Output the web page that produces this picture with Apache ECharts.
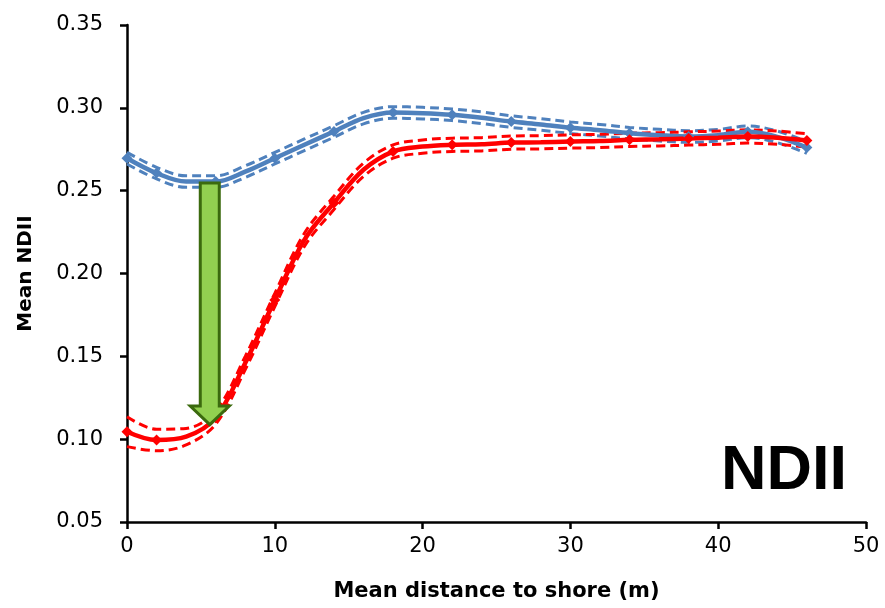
<!DOCTYPE html>
<html>
<head>
<meta charset="utf-8">
<script src="https://cdn.jsdelivr.net/npm/echarts@6/dist/echarts.min.js"></script>
<style>
html,body{margin:0;padding:0;background:#fff;}
#chart{width:885px;height:608px;}
</style>
</head>
<body>
<div id="chart"></div>
<script>
// Distance to shore (m), read every 2 m along the curves
var distance = [0, 2, 4, 6, 8, 10, 12, 14, 16, 18, 20, 22, 24, 26, 28, 30, 32, 34, 36, 38, 40, 42, 44, 46];
// Distances where the diamond markers sit
var markerDistance = [0, 2, 6, 10, 14, 18, 22, 26, 30, 34, 38, 42, 46];
// Blue series (mean NDII) and its dashed band
var blueMean  = [0.2696, 0.2606, 0.2555, 0.2555, 0.2615, 0.2696, 0.2777, 0.2857, 0.2938, 0.2972, 0.2968, 0.2958, 0.2940, 0.2917, 0.2900, 0.2880, 0.2865, 0.2847, 0.2835, 0.2827, 0.2835, 0.2855, 0.2825, 0.2760];
var blueUpper = [0.2731, 0.2641, 0.2590, 0.2590, 0.2650, 0.2731, 0.2812, 0.2892, 0.2973, 0.3007, 0.3003, 0.2993, 0.2975, 0.2952, 0.2935, 0.2915, 0.2900, 0.2882, 0.2870, 0.2862, 0.2870, 0.2890, 0.2860, 0.2795];
var blueLower = [0.2661, 0.2571, 0.2520, 0.2520, 0.2580, 0.2661, 0.2742, 0.2822, 0.2903, 0.2937, 0.2933, 0.2923, 0.2905, 0.2882, 0.2865, 0.2845, 0.2830, 0.2812, 0.2800, 0.2792, 0.2800, 0.2820, 0.2790, 0.2725];
// Red series (mean NDII) and its dashed band
var redMean  = [0.1045, 0.0995, 0.1015, 0.1130, 0.1460, 0.1840, 0.2203, 0.2426, 0.2626, 0.2736, 0.2766, 0.2777, 0.2780, 0.2790, 0.2792, 0.2797, 0.2800, 0.2807, 0.2810, 0.2815, 0.2820, 0.2827, 0.2820, 0.2803];
var redUpper = [0.1135, 0.1060, 0.1065, 0.1170, 0.1500, 0.1880, 0.2243, 0.2466, 0.2666, 0.2776, 0.2806, 0.2817, 0.2820, 0.2830, 0.2832, 0.2837, 0.2840, 0.2847, 0.2850, 0.2855, 0.2860, 0.2867, 0.2860, 0.2843];
var redLower = [0.0955, 0.0930, 0.0965, 0.1090, 0.1420, 0.1800, 0.2163, 0.2386, 0.2586, 0.2696, 0.2726, 0.2737, 0.2740, 0.2750, 0.2752, 0.2757, 0.2760, 0.2767, 0.2770, 0.2775, 0.2780, 0.2787, 0.2780, 0.2763];
// Green arrow: x position, top, head base, tip (data units)
var arrowX = [5.6];
var arrowTop = [0.2547];
var arrowHeadBase = [0.1200];
var arrowTip = [0.1088];
// Axis ticks
var xTicks = [0, 10, 20, 30, 40, 50];
var yTicks = [0.05, 0.10, 0.15, 0.20, 0.25, 0.30, 0.35];
var panelLabel = 'NDII';
var xName = 'Mean distance to shore (m)';
var yName = 'Mean NDII';

function pairs(xs, ys) { return xs.map(function (x, i) { return [x, ys[i]]; }); }
function markedPairs(xs, ys) {
  return xs.map(function (x, i) {
    var mark = markerDistance.indexOf(x) >= 0;
    return {value: [x, ys[i]], symbol: mark ? 'diamond' : 'none'};
  });
}

var chart = echarts.init(document.getElementById('chart'), null, {renderer: 'canvas'});

function solid(name, color, data) {
  return {
    name: name, type: 'line', data: markedPairs(distance, data), smooth: 0.35,
    symbol: 'diamond', symbolSize: 11, showSymbol: true,
    lineStyle: {color: color, width: 4.5},
    itemStyle: {color: color},
    z: 3, animation: false
  };
}
function dashed(name, color, data) {
  return {
    name: name, type: 'line', data: pairs(distance, data), smooth: 0.35,
    symbol: 'none',
    lineStyle: {color: color, width: 3, type: [9, 5]},
    z: 2, animation: false
  };
}

var blue = '#4F81BD', red = '#FF0000';

chart.setOption({
  backgroundColor: '#ffffff',
  animation: false,
  grid: {left: 127, right: 19, top: 25, bottom: 86, containLabel: false},
  xAxis: {
    type: 'value', min: xTicks[0], max: xTicks[xTicks.length - 1], interval: 10,
    name: xName, nameLocation: 'middle', nameGap: 59,
    nameTextStyle: {fontFamily: 'DejaVu Sans', fontWeight: 'bold', fontSize: 21, color: '#000'},
    axisLine: {lineStyle: {color: '#000', width: 2.5}},
    axisTick: {show: true, inside: false, length: 7, lineStyle: {color: '#000', width: 2.5}},
    axisLabel: {fontFamily: 'DejaVu Sans', fontSize: 21, color: '#000', margin: 14},
    splitLine: {show: false}
  },
  yAxis: {
    type: 'value', min: yTicks[0], max: yTicks[yTicks.length - 1], interval: 0.05,
    name: yName, nameLocation: 'middle', nameGap: 91,
    nameTextStyle: {fontFamily: 'DejaVu Sans', fontWeight: 'bold', fontSize: 20, color: '#000'},
    axisLine: {show: true, lineStyle: {color: '#000', width: 2.5}},
    axisTick: {show: true, inside: false, length: 7, lineStyle: {color: '#000', width: 2.5}},
    axisLabel: {fontFamily: 'DejaVu Sans', fontSize: 21, color: '#000', margin: 24,
      formatter: function (v) { return v.toFixed(2); }},
    splitLine: {show: false}
  },
  series: [
    dashed('blue upper', blue, blueUpper),
    dashed('blue lower', blue, blueLower),
    dashed('red upper', red, redUpper),
    dashed('red lower', red, redLower),
    solid('blue', blue, blueMean),
    solid('red', red, redMean),
    {
      type: 'custom', name: 'arrow', z: 10, animation: false,
      data: arrowX.map(function (x, i) { return [x, arrowTop[i], arrowHeadBase[i], arrowTip[i]]; }),
      renderItem: function (params, api) {
        var top = api.coord([api.value(0), api.value(1)]);
        var base = api.coord([api.value(0), api.value(2)]);
        var tip = api.coord([api.value(0), api.value(3)]);
        var cx = top[0], sw = 9.5, hw = 19.5;
        return {
          type: 'polygon',
          shape: {points: [
            [cx - sw, top[1]], [cx + sw, top[1]], [cx + sw, base[1]], [cx + hw, base[1]],
            [cx, tip[1]], [cx - hw, base[1]], [cx - sw, base[1]]
          ]},
          style: {fill: '#92D050', stroke: '#3B6A0E', lineWidth: 3, lineJoin: 'miter'}
        };
      }
    }
  ],
  graphic: [{
    type: 'text', left: 721, top: 440, z: 20,
    style: {
      text: panelLabel, fontFamily: 'Liberation Sans', fontWeight: 'bold', fontSize: 63,
      fill: '#000', shadowColor: 'rgba(0,0,0,0.45)', shadowBlur: 4, shadowOffsetX: 3, shadowOffsetY: 3
    }
  }]
});
</script>
</body>
</html>
